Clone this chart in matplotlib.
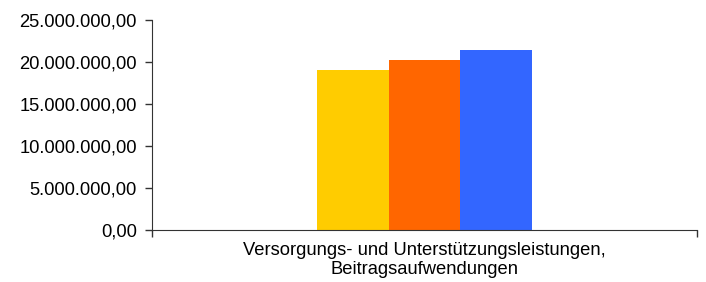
import matplotlib.pyplot as plt
from matplotlib.ticker import FuncFormatter

category = "Versorgungs- und Unterstützungsleistungen,\nBeitragsaufwendungen"
values = [19050000, 20240000, 21430000]
colours = ["#FFCC00", "#FF6600", "#3366FF"]

yTicks = [0, 5000000, 10000000, 15000000, 20000000, 25000000]


def GermanFormat(v, pos=None):
    s = "{:,.2f}".format(v)
    return s.replace(",", "X").replace(".", ",").replace("X", ".")


plt.rcParams['font.family'] = ['Liberation Sans', 'DejaVu Sans']

fig = plt.figure(figsize=(7.06, 2.82), dpi=100)
ax = fig.add_axes([152 / 706, 1 - 230 / 282, 545 / 706, 210 / 282])

barWidth = 0.132
n = len(values)
for i in range(n):
    x = (i - (n - 1) / 2) * barWidth
    ax.bar(x, values[i], width=barWidth, color=colours[i], zorder=2)

ax.set_xlim(-0.5, 0.5)
ax.set_ylim(0, 25000000)
ax.set_yticks(yTicks)
ax.yaxis.set_major_formatter(FuncFormatter(GermanFormat))

ax.set_xticks([-0.5, 0.5])
ax.set_xticklabels(["", ""])
ax.tick_params(axis='x', direction='out', length=5, width=1, color='#333333')
ax.tick_params(axis='y', direction='out', length=5, width=1, color='#333333',
               labelsize=13.2, pad=6)
ax.text(0, -0.055, category, transform=ax.get_xaxis_transform(), ha='center',
        va='top', fontsize=13.2, linespacing=1.22)

ax.spines['top'].set_visible(False)
ax.spines['right'].set_visible(False)
ax.spines['left'].set_color('#333333')
ax.spines['bottom'].set_color('#333333')

fig.savefig("out.png", dpi=100)
